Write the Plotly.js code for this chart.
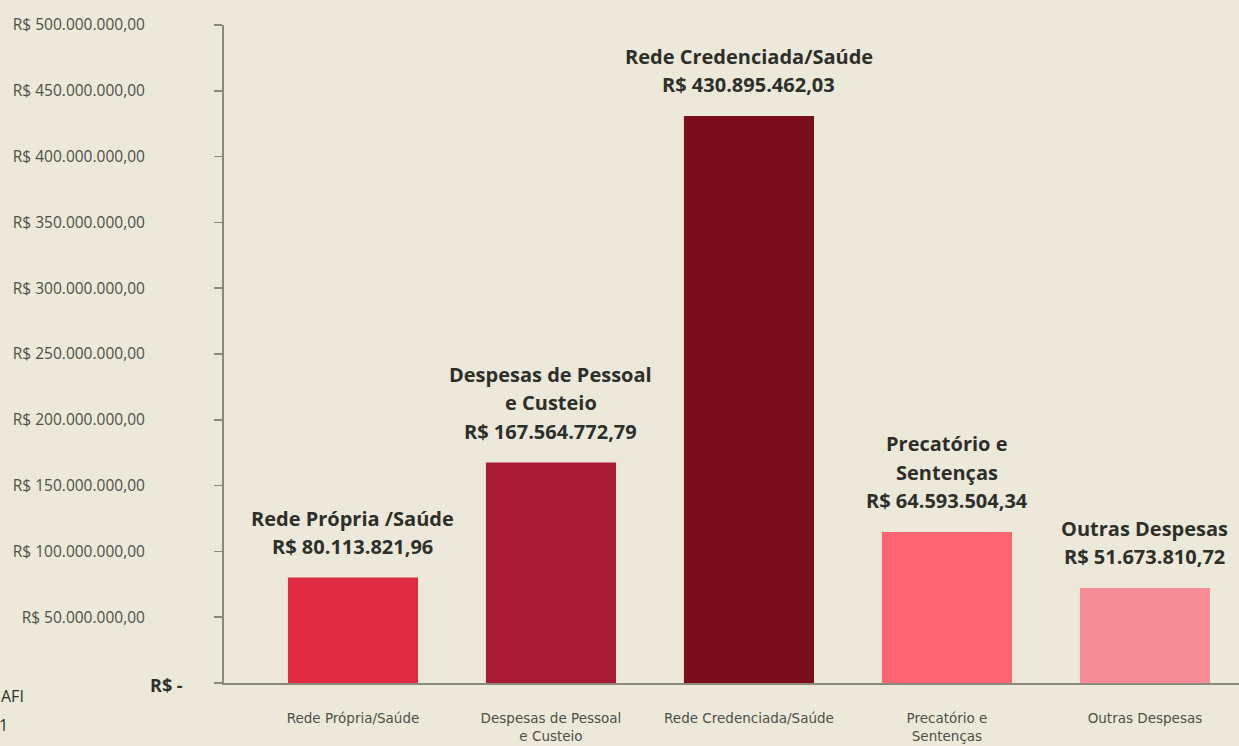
<!DOCTYPE html>
<html>
<head>
<meta charset="utf-8">
<script src="https://cdn.plot.ly/plotly-3.0.1.min.js"></script>
<style>
  html, body { margin: 0; padding: 0; background: #ece9da; }
  #chart { width: 1239px; height: 746px; }
</style>
</head>
<body>
<div id="chart"></div>
<script>
// ---- data ----
const categories = ["Rede Própria/Saúde", "Despesas de Pessoal e Custeio", "Rede Credenciada/Saúde", "Precatório e Sentenças", "Outras Despesas"];
const categoryTickLabels = ["Rede Própria/Saúde", "Despesas de Pessoal<br>e Custeio", "Rede Credenciada/Saúde", "Precatório e<br>Sentenças", "Outras Despesas"];
// bar heights as drawn in the picture
const values = [80.1e6, 167.6e6, 430.9e6, 114.8e6, 72.2e6];
// data labels written above the bars
const labelLines = [
  ["Rede Própria /Saúde", "R$ 80.113.821,96"],
  ["Despesas de Pessoal", "e Custeio", "R$ 167.564.772,79"],
  ["Rede Credenciada/Saúde", "R$ 430.895.462,03"],
  ["Precatório e", "Sentenças", "R$ 64.593.504,34"],
  ["Outras Despesas", "R$ 51.673.810,72"]
];
const barColors = ["#e02a42", "#a91b33", "#7a0e1b", "#fd6571", "#f68d96"];
const yTickVals = [0, 50e6, 100e6, 150e6, 200e6, 250e6, 300e6, 350e6, 400e6, 450e6, 500e6];
const yTickText = ["", "R$ 50.000.000,00", "R$ 100.000.000,00", "R$ 150.000.000,00", "R$ 200.000.000,00", "R$ 250.000.000,00", "R$ 300.000.000,00", "R$ 350.000.000,00", "R$ 400.000.000,00", "R$ 450.000.000,00", "R$ 500.000.000,00"];
const zeroLabel = "R$ -";
const sideText = ["AFI", "1"];

// ---- styling ----
const bg = "#ece9da";
const axisColor = "#8a897c";
const font = "'Open Sans', Lato, sans-serif";

const trace = {
  type: "bar",
  x: categories,
  y: values,
  marker: { color: barColors, line: { width: 0 } },
  hoverinfo: "skip"
};

const annotations = [];
labelLines.forEach((lines, i) => {
  const n = lines.length;
  lines.forEach((t, j) => {
    annotations.push({
      xref: "x", yref: "y",
      x: categories[i], y: values[i],
      text: "<b>" + t + "</b>",
      showarrow: false,
      xanchor: "center", yanchor: "middle",
      yshift: 31 + 28.5 * (n - 1 - j),
      font: { family: font, size: 20, color: "#2f2f2a" }
    });
  });
});
annotations.push({
  xref: "paper", yref: "y", x: 0, y: 0,
  xshift: -39, xanchor: "right", yanchor: "middle", yshift: -2,
  text: "<b>" + zeroLabel + "</b>", showarrow: false,
  font: { family: font, size: 18, color: "#2f2f2a" }
});
annotations.push({
  xref: "paper", yref: "paper", x: 0, y: 0,
  xshift: -225, yshift: -13, xanchor: "left", yanchor: "middle",
  text: sideText[0], showarrow: false,
  font: { family: font, size: 16, color: "#2f2f2a" }
});
annotations.push({
  xref: "paper", yref: "paper", x: 0, y: 0,
  xshift: -227, yshift: -42, xanchor: "left", yanchor: "middle",
  text: sideText[1], showarrow: false,
  font: { family: font, size: 16, color: "#2f2f2a" }
});

const layout = {
  width: 1239, height: 746,
  paper_bgcolor: bg, plot_bgcolor: bg,
  margin: { l: 224, r: 0, t: 25, b: 63 },
  showlegend: false,
  bargap: 0.343,
  xaxis: {
    type: "category",
    range: [-0.6515, 4.475],
    tickvals: categories,
    ticktext: categoryTickLabels,
    showline: true, linecolor: axisColor, linewidth: 2,
    ticks: "", showgrid: false, zeroline: false,
    ticklabelstandoff: 22,
    tickfont: { family: "'DejaVu Sans', 'Open Sans', sans-serif", size: 13.5, color: "#4f4f47" },
    fixedrange: true
  },
  yaxis: {
    range: [0, 500e6],
    tickvals: yTickVals,
    ticktext: yTickText,
    showline: true, linecolor: axisColor, linewidth: 2,
    ticks: "outside", ticklen: 8, tickcolor: axisColor, tickwidth: 1.5,
    showgrid: false, zeroline: false,
    ticklabelstandoff: 66,
    tickfont: { family: font, size: 15.5, color: "#4f4f47" },
    fixedrange: true
  },
  annotations: annotations
};

Plotly.newPlot("chart", [trace], layout, { displayModeBar: false, staticPlot: true });
</script>
</body>
</html>
